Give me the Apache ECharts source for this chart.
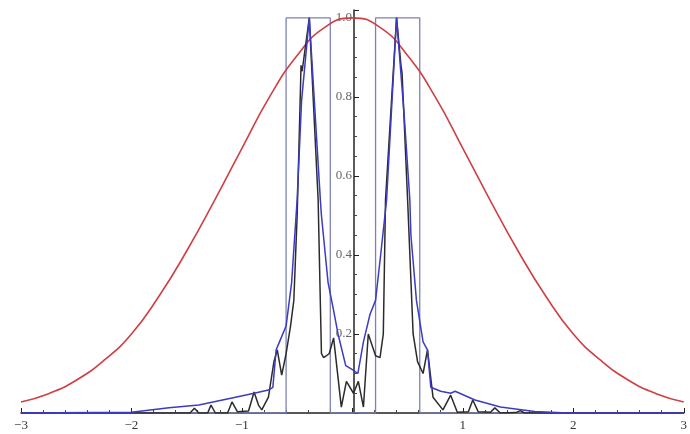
<!DOCTYPE html>
<html>
<head>
  <meta charset="UTF-8">
  <title>Gaussian / rect / reconstruction</title>
  <script src="https://cdn.jsdelivr.net/npm/echarts@6/dist/echarts.min.js"></script>
  <style>
    html, body, #main { margin: 0; padding: 0; width: 690px; height: 434px; background: #fff; }
  </style>
</head>
<body>
  <div id="main"></div>
  <script>
    // red bell curve
    const gaussPts = [
      [-3, 0.028], [-2.75, 0.049], [-2.5, 0.083], [-2.25, 0.133], [-2, 0.2],
      [-1.75, 0.296], [-1.5, 0.41], [-1.25, 0.537], [-1, 0.67], [-0.75, 0.8],
      [-0.5, 0.905], [-0.25, 0.976], [0, 1], [0.25, 0.976], [0.5, 0.905],
      [0.75, 0.8], [1, 0.67], [1.25, 0.537], [1.5, 0.41], [1.75, 0.296],
      [2, 0.2], [2.25, 0.133], [2.5, 0.083], [2.75, 0.049], [3, 0.028]
    ];

    // the two boxes
    const rectPts = [
      [-3, 0], [-0.6, 0], [-0.6, 1], [-0.2, 1], [-0.2, 0], [0.21, 0],
      [0.21, 1], [0.61, 1], [0.61, 0], [3, 0]
    ];

    // black (jagged) curve
    const blackPts = [
      [-3, 0], [-1.7, 0], [-1.47, 0], [-1.43, 0.012], [-1.39, 0], [-1.31, 0],
      [-1.28, 0.02], [-1.24, 0], [-1.13, 0], [-1.09, 0.028], [-1.04, 0.003],
      [-0.94, 0.005], [-0.89, 0.053], [-0.85, 0.02], [-0.82, 0.008], [-0.76, 0.04],
      [-0.71, 0.13], [-0.68, 0.16], [-0.64, 0.096], [-0.6, 0.15], [-0.56, 0.22],
      [-0.53, 0.285], [-0.5, 0.5], [-0.47, 0.82], [-0.465, 0.88], [-0.455, 0.865],
      [-0.39, 1], [-0.31, 0.54], [-0.28, 0.15], [-0.26, 0.14], [-0.21, 0.15],
      [-0.17, 0.19], [-0.1, 0.015], [-0.054, 0.08], [0.01, 0.05], [0.054, 0.08],
      [0.1, 0.015], [0.144, 0.2], [0.21, 0.145], [0.25, 0.14], [0.28, 0.2],
      [0.3, 0.54], [0.4, 1], [0.44, 0.88], [0.45, 0.86], [0.5, 0.54], [0.55, 0.2],
      [0.59, 0.13], [0.64, 0.1], [0.68, 0.16], [0.73, 0.04], [0.82, 0.008],
      [0.89, 0.045], [0.95, 0.002], [1.05, 0.003], [1.09, 0.033], [1.14, 0.003],
      [1.25, 0.002], [1.29, 0.013], [1.34, 0], [1.48, 0.001], [1.52, 0.006],
      [1.56, 0], [3, 0]
    ];

    // blue (smoother) curve
    const bluePts = [
      [-3, 0], [-2.0, 0.002], [-1.66, 0.013], [-1.39, 0.02], [-1.09, 0.038],
      [-0.89, 0.05], [-0.76, 0.058], [-0.72, 0.065], [-0.69, 0.16], [-0.66, 0.18],
      [-0.6, 0.22], [-0.55, 0.33], [-0.5, 0.54], [-0.46, 0.79], [-0.39, 1],
      [-0.29, 0.54], [-0.28, 0.5], [-0.22, 0.33], [-0.17, 0.26], [-0.13, 0.2],
      [-0.06, 0.12], [0, 0.11], [0.05, 0.1], [0.1, 0.18], [0.16, 0.25],
      [0.21, 0.285], [0.26, 0.41], [0.31, 0.54], [0.4, 1], [0.47, 0.75],
      [0.52, 0.54], [0.53, 0.45], [0.58, 0.285], [0.64, 0.18], [0.68, 0.16],
      [0.71, 0.065], [0.8, 0.055], [0.89, 0.05], [0.93, 0.055], [1.11, 0.033],
      [1.34, 0.015], [1.65, 0.004], [1.95, 0], [3, 0]
    ];

    const chart = echarts.init(document.getElementById('main'));
    const font = 'Liberation Serif';
    const gridLeft = 21, gridRight = 3;
    // y axis sits at x = 0, i.e. in the middle of the plot width
    const yAxisShift = (690 - gridLeft - gridRight) / 2;

    function lineSeries(data, color, width, z, smooth) {
      return {
        type: 'line',
        data: data,
        showSymbol: false,
        smooth: smooth,
        z: z,
        lineStyle: { color: color, width: width },
        silent: true
      };
    }

    chart.setOption({
      animation: false,
      grid: { left: gridLeft, right: gridRight, top: 10, bottom: 21 },
      xAxis: {
        type: 'value',
        min: -3, max: 3, interval: 1,
        axisLine: { onZero: true, lineStyle: { color: '#222', width: 1.5 } },
        axisTick: { inside: true, length: 5, lineStyle: { color: '#222' } },
        minorTick: { show: true, splitNumber: 5, length: 3, lineStyle: { color: '#444' } },
        splitLine: { show: false },
        axisLabel: {
          fontFamily: font, fontSize: 13, color: '#333', margin: 6,
          formatter: v => v === 0 ? '' : (v < 0 ? '\u2212' + (-v) : String(v))
        }
      },
      yAxis: {
        type: 'value',
        min: 0, max: 1.02, interval: 0.2,
        offset: -yAxisShift,
        axisLine: { onZero: false, lineStyle: { color: '#222', width: 1.5 } },
        axisTick: { inside: true, length: 5, lineStyle: { color: '#222' } },
        minorTick: { show: true, splitNumber: 4, length: 3, lineStyle: { color: '#444' } },
        splitLine: { show: false },
        axisLabel: {
          fontFamily: font, fontSize: 13, color: '#666', margin: 2,
          formatter: v => {
            const r = Math.round(v * 10) / 10;
            if (r === 0 || Math.abs(v - r) > 1e-6 || Math.round(r * 10) % 2) return '';
            return r.toFixed(1);
          }
        }
      },
      series: [
        lineSeries(rectPts, '#7c80b4', 1.3, 1, false),
        lineSeries(gaussPts, '#cf3f44', 1.6, 2, true),
        lineSeries(blackPts, '#2b2b2b', 1.5, 3, false),
        lineSeries(bluePts, '#3b3bc4', 1.5, 4, false)
      ]
    });
  </script>
</body>
</html>
